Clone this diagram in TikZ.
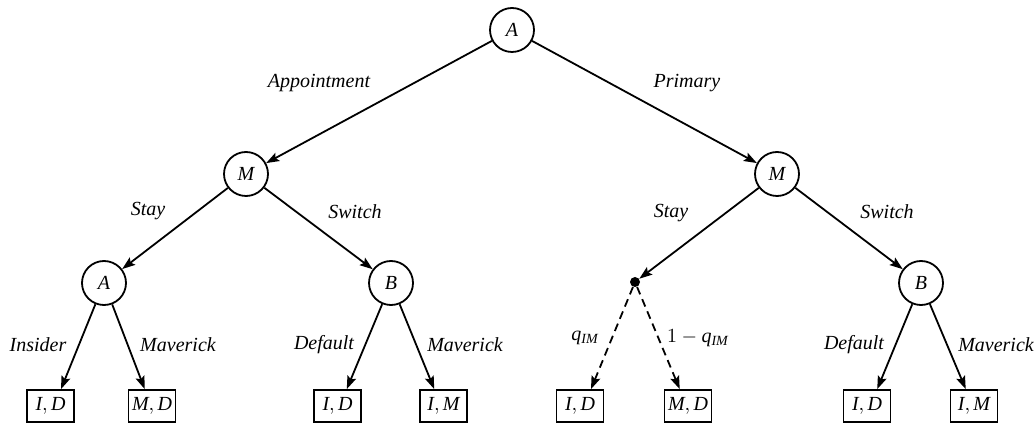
\documentclass[tikz,border=0pt]{standalone}
\usepackage{fontspec}
\setmainfont{Liberation Serif}
\usetikzlibrary{arrows.meta,calc}
\begin{document}
\begin{tikzpicture}[x=0.5pt,y=-0.5pt,
  decision/.style={circle,draw,line width=0.9pt,minimum size=22pt,inner sep=0pt,font=\itshape},
  outcome/.style={rectangle,draw,line width=0.9pt,minimum width=23.5pt,minimum height=16pt,inner sep=1pt},
  chance/.style={circle,fill,inner sep=0pt,minimum size=5pt},
  branch/.style={line width=0.9pt,-{Stealth[length=6.5pt,width=4.6pt,inset=1.2pt]}},
  prob/.style={branch,dash pattern=on 4pt off 2.6pt},
  lbl/.style={font=\itshape}]
\useasboundingbox (0,0) rectangle (1036,426);
% decision nodes
\node[decision] (root) at (512,30) {A};
\node[decision] (mL) at (246,174) {M};
\node[decision] (mR) at (777,174) {M};
\node[decision] (aL) at (104,283) {A};
\node[decision] (bL) at (391,283) {B};
\node[chance]   (c)  at (635,282) {};
\node[decision] (bR) at (921,283) {B};
% outcomes
\node[outcome] (o1) at (50.5,406) {$\mathit{I},\mathit{D}$};
\node[outcome] (o2) at (152,406) {$\mathit{M},\mathit{D}$};
\node[outcome] (o3) at (337.5,406) {$\mathit{I},\mathit{D}$};
\node[outcome] (o4) at (443.5,406) {$\mathit{I},\mathit{M}$};
\node[outcome] (o5) at (580,406) {$\mathit{I},\mathit{D}$};
\node[outcome] (o6) at (688,406) {$\mathit{M},\mathit{D}$};
\node[outcome] (o7) at (867,406) {$\mathit{I},\mathit{D}$};
\node[outcome] (o8) at (974,406) {$\mathit{I},\mathit{M}$};
% branches
\draw[branch] (root) -- (mL);
\draw[branch] (root) -- (mR);
\draw[branch] (mL) -- (aL);
\draw[branch] (mL) -- (bL);
\draw[branch] (mR) -- (c);
\draw[branch] (mR) -- (bR);
\draw[branch] (aL) -- ($(o1.north)!0.43!(o1.north east)$);
\draw[branch] (aL) -- ($(o2.north)!0.3!(o2.north west)$);
\draw[branch] (bL) -- ($(o3.north)!0.38!(o3.north east)$);
\draw[branch] (bL) -- ($(o4.north)!0.38!(o4.north west)$);
\draw[prob] (c) -- ($(o5.north)!0.45!(o5.north east)$);
\draw[prob] (c) -- ($(o6.north)!0.34!(o6.north west)$);
\draw[branch] (bR) -- ($(o7.north)!0.42!(o7.north east)$);
\draw[branch] (bR) -- ($(o8.north)!0.34!(o8.north west)$);
% branch labels
\node[lbl] (l1) at (319,83) {Appointment};
\node[lbl] (l2) at (687,83) {Primary};
\node[lbl] (l3) at (148,211) {Stay};
\node[lbl] (l4) at (355,212) {Switch};
\node[lbl] (l5) at (671,213) {Stay};
\node[lbl] (l6) at (887,212) {Switch};
\node[lbl] (l7) at (38,345) {Insider};
\node[lbl] (l8) at (178,345) {Maverick};
\node[lbl] (l9) at (324,345) {Default};
\node[lbl] (l10) at (465,345) {Maverick};
\node (l11) at (585,338) {$\mathit{q}_{\mathit{IM}}$};
\node (l12) at (698,338) {$1-\mathit{q}_{\mathit{IM}}$};
\node[lbl] (l13) at (854,345) {Default};
\node[lbl] (l14) at (996,345) {Maverick};
\end{tikzpicture}
\end{document}
